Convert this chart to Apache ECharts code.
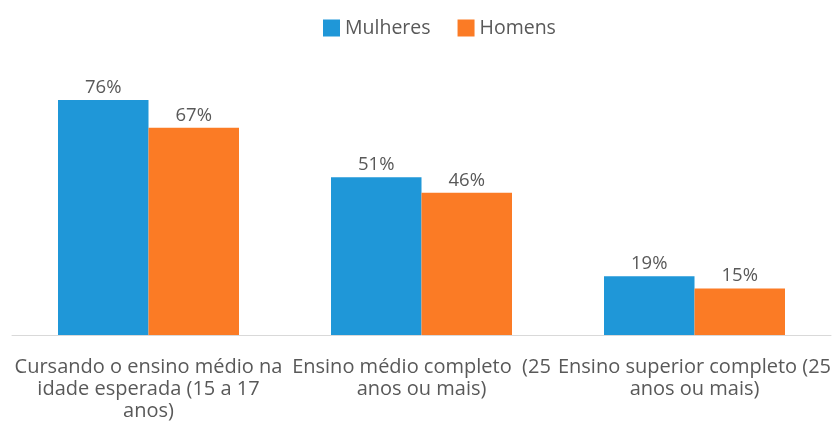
<!DOCTYPE html>
<html>
<head>
<meta charset="utf-8">
<script src="https://cdn.jsdelivr.net/npm/echarts@6/dist/echarts.min.js"></script>
<style>html,body{margin:0;padding:0;background:#fff}#c{width:834px;height:432px}</style>
</head>
<body>
<div id="c"></div>
<script>
const categories = [
  "Cursando o ensino médio na\nidade esperada (15 a 17\nanos)",
  "Ensino médio completo  (25\nanos ou mais)",
  "Ensino superior completo (25\nanos ou mais)"
];
const seriesNames = ["Mulheres", "Homens"];
const mulheres = [76, 51, 19];
const homens = [67, 46, 15];

const FONT = "'Open Sans', sans-serif";
const TXT = '#595959';
const chart = echarts.init(document.getElementById('c'), null, {renderer: 'canvas'});
const labelOpt = {
  show: true, position: 'top', distance: 3,
  formatter: p => p.value + '%',
  color: TXT, fontFamily: FONT, fontSize: 18.5
};
chart.setOption({
  animation: false,
  legend: {
    top: 13, left: 318,
    itemWidth: 17, itemHeight: 17, itemGap: 27,
    icon: 'rect',
    textStyle: {color: TXT, fontFamily: FONT, fontSize: 19.5},
    data: seriesNames
  },
  grid: {left: 12, right: 3, top: 100, bottom: 97, outerBoundsMode: 'none', containLabel: false},
  xAxis: {
    type: 'category', data: categories,
    axisLine: {lineStyle: {color: '#d9d9d9', width: 1}},
    axisTick: {show: false},
    axisLabel: {color: TXT, fontFamily: FONT, fontSize: 20, lineHeight: 22, margin: 21, interval: 0}
  },
  yAxis: {type: 'value', min: 0, max: 76, show: false, splitLine: {show: false}},
  series: [
    {name: seriesNames[0], type: 'bar', data: mulheres, barGap: '0%', barCategoryGap: '33.7%',
     itemStyle: {color: '#1f97d8'}, label: labelOpt},
    {name: seriesNames[1], type: 'bar', data: homens,
     itemStyle: {color: '#fb7b25'}, label: labelOpt}
  ]
});
</script>
</body>
</html>
